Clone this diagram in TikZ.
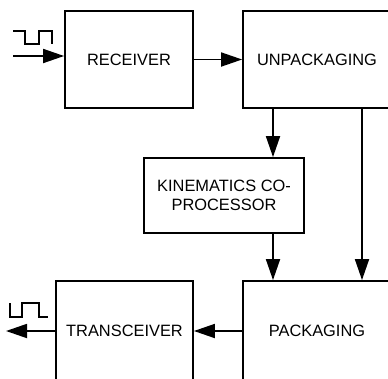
\documentclass[tikz,border=0pt]{standalone}
\usepackage{fontspec}
\setmainfont{Liberation Sans}
\usetikzlibrary{arrows.meta}
\begin{document}
\begin{tikzpicture}[x=1pt,y=1pt,
  blk/.style={draw, line width=1.8pt, inner sep=0pt, align=center,
    font=\fontsize{16.4}{19}\selectfont},
  arr/.style={line width=1.8pt, -{Triangle[length=21pt,width=14pt]}},
  wave/.style={line width=1.6pt}]
\useasboundingbox (0,0) rectangle (388,-378);
\clip (0,0) rectangle (388,-378);
\node[blk, minimum width=128pt, minimum height=97pt] (rec) at (129,-59.5) {RECEIVER};
\node[blk, minimum width=148pt, minimum height=97pt] (unp) at (317,-59.5) {UNPACKAGING};
\node[blk, minimum width=160pt, minimum height=75pt] (kin) at (224,-195.5) {KINEMATICS CO-\\PROCESSOR};
\node[blk, minimum width=148pt, minimum height=100pt] (pack) at (317,-331) {PACKAGING};
\node[blk, minimum width=137pt, minimum height=100pt] (trans) at (124.5,-331) {TRANSCEIVER};
\coordinate (in) at (13,-56);
\coordinate (out) at (6,-331);
\coordinate (c1) at (273,0);
\coordinate (c2) at (362,0);
\draw[arr] (in) -- (in -| rec.west);
\draw[arr] (rec.east) -- (unp.west);
\draw[arr] (unp.south -| c1) -- (kin.north -| c1);
\draw[arr] (kin.south -| c1) -- (pack.north -| c1);
\draw[arr] (unp.south -| c2) -- (pack.north -| c2);
\draw[arr] (pack.west) -- (trans.east);
\draw[arr] (trans.west) -- (out);
\draw[wave] (13,-31) -- (25,-31) -- (25,-44) -- (39,-44) -- (39,-31) -- (52,-31) -- (52,-44);
\draw[wave] (10,-303) -- (10,-317) -- (22,-317) -- (22,-303) -- (39,-303) -- (39,-317) -- (48,-317);
\end{tikzpicture}
\end{document}
